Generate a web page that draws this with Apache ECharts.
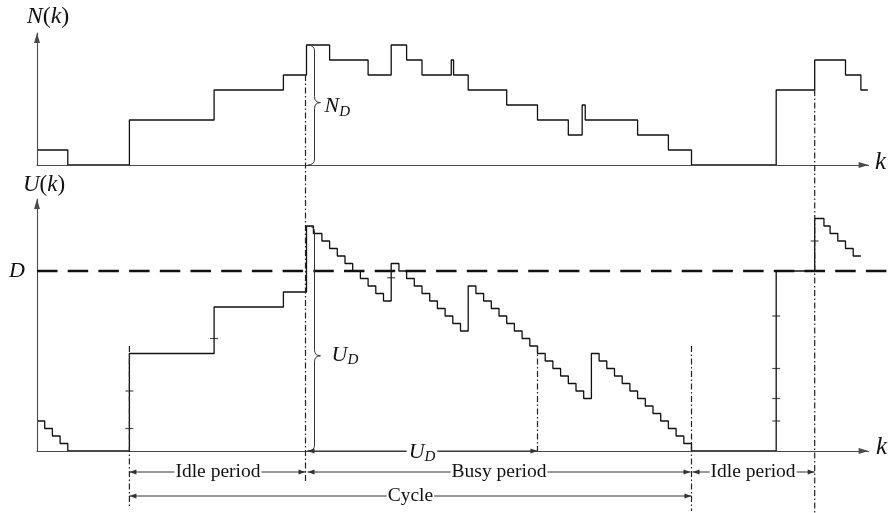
<!DOCTYPE html>
<html>
<head>
<meta charset="utf-8">
<title>N(k) and U(k)</title>
<script src="https://cdn.jsdelivr.net/npm/echarts@6.0.0/dist/echarts.min.js"></script>
<style>
html,body{margin:0;padding:0;background:#fff;}
#chart{width:888px;height:513px;}
</style>
</head>
<body>
<div id="chart"></div>
<script>
// ---------- data ----------
// N(k): level holds from nK[i] until nK[i+1]
const nK   = [0, 4, 12, 23, 32, 35, 38, 43, 46, 48, 50, 53.8, 54.1, 56, 61, 65, 69, 70.8, 71.2, 78, 82, 85, 96, 101, 105, 107, 107.9];
const nVal = [1, 0, 3, 5, 6, 8, 7, 6, 8, 7, 6, 7, 6, 5, 4, 3, 2, 4, 3, 2, 1, 0, 5, 7, 6, 5, 5];

// U(k): level holds from uK[i] until uK[i+1]
const uK = [0, 1, 2, 3, 4, 12, 23, 32, 35, 35.9,
  37, 38, 39, 40, 41, 42, 43, 44, 45, 46,
  47, 48, 49, 50, 51, 52, 53, 54, 55, 56,
  57, 58, 59, 60, 61, 62, 63, 64, 65, 66,
  67, 68, 69, 70, 71, 72, 73, 74, 75, 76,
  77, 78, 79, 80, 81, 82, 83, 84, 85,
  96, 101, 102.2, 103, 104, 105, 106, 107];
const uVal = [4, 3, 2, 1, 0, 13, 19.2, 21.2, 30, 29,
  28, 27, 26, 25, 24, 23, 22, 21, 20, 25,
  24, 23, 22, 21, 20, 19, 18, 17, 16, 22,
  21, 20, 19, 18, 17, 16, 15, 14, 13, 12,
  11, 10, 9, 8, 7, 13, 12, 11, 10, 9,
  8, 7, 6, 5, 4, 3, 2, 1, 0,
  24, 31, 30, 29, 28, 27, 26, 26];

// small tick marks drawn on U(k)
const tickK = [12, 12, 23, 46, 96, 96, 96, 96, 101];
const tickU = [8, 3, 15, 23.1, 18, 11, 7, 4, 28];

// reference levels
const D = 24;
const N_D = 8;
const U_D = 30;

// instants on the k axis
const kIdleStart = 12, kBusyStart = 35, kUDEnd = 65, kBusyEnd = 85, kNextBusy = 101;

// range of the axes
const kMax = 108, nMax = 8.8, uMax = 33.6;

// ---------- chart ----------
const LINE = '#111';
const AX = '#4a4a4a';
const SERIF = '"Liberation Serif", "Times New Roman", serif';

function mkX(i) {
  return {
    type: 'value', gridIndex: i, min: 0, max: kMax, z: 5,
    axisLine: {show: true, onZero: false, symbol: ['none', 'triangle'], symbolSize: [6, 10], symbolOffset: [0, -5],
      lineStyle: {color: AX, width: 1.1}},
    axisTick: {show: false}, axisLabel: {show: false}, splitLine: {show: false}
  };
}
function mkY(i, max) {
  return {
    type: 'value', gridIndex: i, min: 0, max: max, z: 5,
    axisLine: {show: true, onZero: false, symbol: ['none', 'triangle'], symbolSize: [6, 10], symbolOffset: [0, -5],
      lineStyle: {color: AX, width: 1.1}},
    axisTick: {show: false}, axisLabel: {show: false}, splitLine: {show: false}
  };
}

const chart = echarts.init(document.getElementById('chart'));
chart.setOption({
  animation: false,
  backgroundColor: '#ffffff',
  grid: [
    {left: 37, top: 33, width: 831.6, height: 132},
    {left: 37, top: 199, width: 831.6, height: 252}
  ],
  xAxis: [mkX(0), mkX(1)],
  yAxis: [mkY(0, nMax), mkY(1, uMax)],
  series: [
    {name: 'N(k)', type: 'line', xAxisIndex: 0, yAxisIndex: 0, step: 'end', symbol: 'none', clip: false,
      data: nK.map((k, i) => [k, nVal[i]]), lineStyle: {color: LINE, width: 1.3}, z: 3, silent: true},
    {name: 'U(k)', type: 'line', xAxisIndex: 1, yAxisIndex: 1, step: 'end', symbol: 'none', clip: false,
      data: uK.map((k, i) => [k, uVal[i]]), lineStyle: {color: LINE, width: 1.3}, z: 3, silent: true},
    {name: 'ticks', type: 'scatter', xAxisIndex: 1, yAxisIndex: 1, symbol: 'rect', symbolSize: [8, 1.2],
      data: tickK.map((k, i) => [k, tickU[i]]), itemStyle: {color: '#222'}, z: 4, silent: true}
  ]
});

// ---------- annotations positioned through the axes ----------
const P0 = (k, v) => chart.convertToPixel({gridIndex: 0}, [k, v]);
const P1 = (k, v) => chart.convertToPixel({gridIndex: 1}, [k, v]);

const g = [];
const DASHDOT = [6, 2.5, 1.5, 2.5];
function vline(x, y1, y2) {
  g.push({type: 'line', z: 10, shape: {x1: x, y1: y1, x2: x, y2: y2},
    style: {stroke: '#222', lineWidth: 1.2, lineDash: DASHDOT}});
}
function brace(x0, top, bot, tipY) {
  const xm = x0 + 7, xt = x0 + 13, r = 6;
  const st = {stroke: '#333', lineWidth: 1, fill: null};
  g.push({type: 'bezierCurve', z: 10, shape: {x1: x0, y1: top, cpx1: xm, cpy1: top, x2: xm, y2: top + r}, style: st});
  g.push({type: 'line', z: 10, shape: {x1: xm, y1: top + r, x2: xm, y2: tipY - r}, style: st});
  g.push({type: 'bezierCurve', z: 10, shape: {x1: xm, y1: tipY - r, cpx1: xm, cpy1: tipY, x2: xt, y2: tipY}, style: st});
  g.push({type: 'bezierCurve', z: 10, shape: {x1: xt, y1: tipY, cpx1: xm, cpy1: tipY, x2: xm, y2: tipY + r}, style: st});
  g.push({type: 'line', z: 10, shape: {x1: xm, y1: tipY + r, x2: xm, y2: bot - r}, style: st});
  g.push({type: 'bezierCurve', z: 10, shape: {x1: xm, y1: bot - r, cpx1: xm, cpy1: bot, x2: x0, y2: bot}, style: st});
}
function dblArrow(xa, xb, y) {
  const h = 7, w = 2.6, c = '#333';
  g.push({type: 'line', z: 10, shape: {x1: xa, y1: y, x2: xb, y2: y}, style: {stroke: c, lineWidth: 1}});
  g.push({type: 'polygon', z: 11, shape: {points: [[xa, y], [xa + h, y - w], [xa + h, y + w]]}, style: {fill: c}});
  g.push({type: 'polygon', z: 11, shape: {points: [[xb, y], [xb - h, y - w], [xb - h, y + w]]}, style: {fill: c}});
}
function text(x, y, str, st) {
  g.push({type: 'text', z: 50, x: x, y: y, style: Object.assign({
    text: str, fontFamily: SERIF, fontSize: 19.5, fill: '#111', align: 'center', verticalAlign: 'middle'
  }, st || {})});
}
const it = (size) => ({fontFamily: SERIF, fontSize: size, fontStyle: 'italic', fill: '#111', lineHeight: 26});
const rm = (size) => ({fontFamily: SERIF, fontSize: size, fill: '#111', lineHeight: 26});
const sub = (size) => ({fontFamily: SERIF, fontSize: size, fontStyle: 'italic', fill: '#111', lineHeight: 10, verticalAlign: 'bottom'});

// D reference line (extends past the axis arrow)
const pD = P1(0, D);
g.push({type: 'line', z: 9, shape: {x1: pD[0], y1: pD[1], x2: 888, y2: pD[1]},
  style: {stroke: '#111', lineWidth: 2.6, lineDash: [20.5, 10.2]}});

const base1 = P1(0, 0)[1];

// dash-dot instants
vline(P0(kBusyStart, 0)[0] - 1, P0(kBusyStart, 6)[1], base1 + 31);
vline(P0(kNextBusy, 0)[0], P0(kNextBusy, 5)[1], 513);
vline(P1(kIdleStart, 0)[0], P1(kIdleStart, 14)[1], base1 + 56);
vline(P1(kUDEnd, 0)[0], P1(kUDEnd, 14)[1], base1);
vline(P1(kBusyEnd, 0)[0], P1(kBusyEnd, 14)[1], base1 + 60);

// braces N_D and U_D
const bx0 = P0(kBusyStart, 0)[0] + 1;
const nTop = P0(kBusyStart, N_D)[1], nBot = P0(kBusyStart, 0)[1];
const nTip = nTop + 0.48 * (nBot - nTop);
brace(bx0, nTop, nBot, nTip);
const uTop = P1(kBusyStart, U_D)[1], uBot = P1(kBusyStart, 0)[1];
const uTip = uTop + 0.577 * (uBot - uTop);
brace(bx0, uTop, uBot, uTip);

text(bx0 + 17, nTip + 4, '{i|N}{s|D}', {align: 'left', rich: {i: it(22), s: sub(15)}});
text(bx0 + 24, uTip - 1, '{i|U}{s|D}', {align: 'left', rich: {i: it(22), s: sub(15)}});

// U_D arrow along the k axis
const xB = P1(kBusyStart, 0)[0], xU = P1(kUDEnd, 0)[0];
dblArrow(xB + 1, xU, base1);
text((xB + xU) / 2, base1 + 1, '{i|U}{s|D}', {rich: {i: it(22), s: sub(15)}, backgroundColor: '#fff', padding: [0, 2]});

// period arrows
const xI = P1(kIdleStart, 0)[0], xE = P1(kBusyEnd, 0)[0], xN = P1(kNextBusy, 0)[0];
const row1 = base1 + 21, row2 = base1 + 45;
dblArrow(xI, xB - 1, row1);
dblArrow(xB + 1, xE - 1, row1);
dblArrow(xE + 1, xN, row1);
dblArrow(xI, xE, row2);
const lbl = {backgroundColor: '#fff', padding: [0, 1]};
text((xI + xB) / 2, row1, 'Idle period', lbl);
text((xB + xE) / 2, row1, 'Busy period', lbl);
text((xE + xN) / 2, row1, 'Idle period', lbl);
text((xI + xE) / 2, row2, 'Cycle', lbl);

// axis titles
const topN = P0(0, nMax), topU = P1(0, uMax);
text(topN[0] + 11, topN[1] - 16, '{i|N}{r|(}{i|k}{r|)}', {rich: {i: it(24), r: rm(24)}});
text(topU[0] + 7, topU[1] - 14, '{i|U}{r|(}{i|k}{r|)}', {rich: {i: it(23), r: rm(23)}});
text(pD[0] - 20, pD[1], 'D', {fontStyle: 'italic', fontSize: 22});
const endN = P0(kMax, 0), endU = P1(kMax, 0);
text(endN[0] + 12, endN[1] - 3, 'k', {fontStyle: 'italic', fontSize: 25});
text(endU[0] + 13, endU[1] - 4, 'k', {fontStyle: 'italic', fontSize: 25});

chart.setOption({graphic: g});
</script>
</body>
</html>
